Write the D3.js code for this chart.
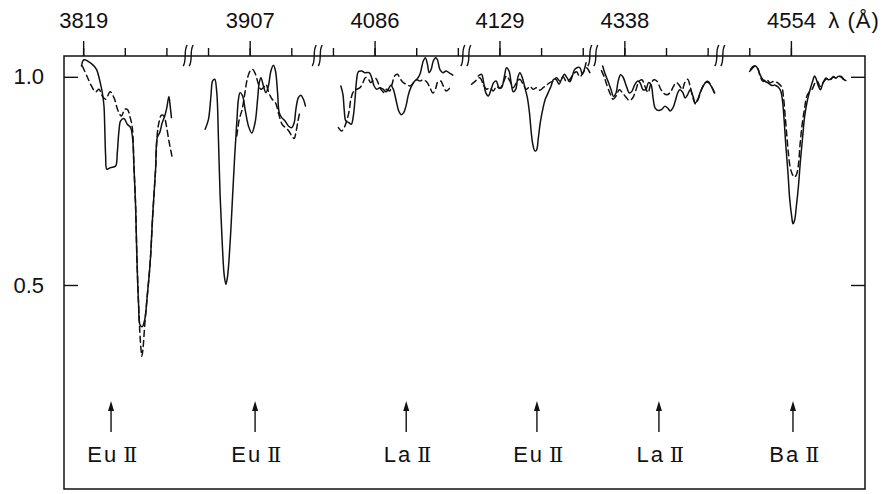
<!DOCTYPE html>
<meta charset="utf-8">
<style>

body {
  margin: 0;
  background: #fff;
}

.spec {
  fill: none;
  stroke: #111;
  stroke-width: 1.5;
  stroke-linejoin: round;
  stroke-linecap: round;
}

.spec--dash {
  stroke-dasharray: 6,4;
}

.frame {
  fill: none;
  stroke: #111;
  stroke-width: 1.5;
}

.axis path.domain {
  display: none;
}

.axis line {
  stroke: #111;
  stroke-width: 1.4;
}

.axis text, .lbl {
  font-family: "Liberation Sans", sans-serif;
  font-size: 22px;
  fill: #111;
}

</style>
<svg width="887" height="494"></svg>
<script src="https://cdn.jsdelivr.net/npm/d3@7/dist/d3.min.js"></script>
<script>

// wavelength window of each panel of the broken axis (Å)
var panelRanges = [[3818.54, 3821.57], [3905.57, 3908.67], [4084.67, 4088.24],
                   [4128.24, 4131.29], [4337.29, 4340.34], [4552.34, 4555.78]];
var panelLabels = [3819, 3907, 4086, 4129, 4338, 4554];
var panelTicks = [[3819, 3820, 3821], [3906, 3907, 3908], [4085, 4086, 4087, 4088],
                  [4129, 4130, 4131], [4338, 4339, 4340], [4553, 4554]];

// identified lines (arrows)
var lineIons = ["Eu", "Eu", "La", "Eu", "La", "Ba"];
var lineStages = ["II", "II", "II", "II", "II", "II"];
var lineLambda = [3819.67, 3907.13, 4086.76, 4129.9, 4338.83, 4554.05];

// residual flux, solid star
var seg1Solid = [[3818.96,1.026],[3819.02,1.041],[3819.22,1.030],[3819.32,1.018],[3819.41,0.986],[3819.46,0.962],[3819.50,0.930],[3819.52,0.874],[3819.54,0.810],[3819.57,0.778],[3819.66,0.782],[3819.78,0.786],[3819.82,0.818],[3819.86,0.870],[3819.90,0.894],[3819.98,0.900],[3820.06,0.886],[3820.14,0.878],[3820.19,0.850],[3820.22,0.786],[3820.26,0.690],[3820.29,0.570],[3820.33,0.457],[3820.37,0.403],[3820.42,0.400],[3820.48,0.417],[3820.54,0.474],[3820.61,0.554],[3820.67,0.666],[3820.74,0.778],[3820.78,0.854],[3820.84,0.866],[3820.90,0.890],[3820.96,0.906],[3821.01,0.926],[3821.06,0.953],[3821.09,0.930],[3821.12,0.902]];
var seg2Solid = [[3905.93,0.874],[3906.01,0.898],[3906.07,0.954],[3906.11,0.990],[3906.16,0.994],[3906.21,0.962],[3906.25,0.850],[3906.29,0.714],[3906.34,0.602],[3906.39,0.522],[3906.43,0.502],[3906.47,0.522],[3906.53,0.602],[3906.59,0.714],[3906.64,0.810],[3906.69,0.890],[3906.73,0.946],[3906.77,0.962],[3906.83,0.954],[3906.89,0.922],[3906.97,0.882],[3907.05,0.865],[3907.13,0.890],[3907.19,0.946],[3907.23,0.986],[3907.27,0.998],[3907.33,0.978],[3907.39,0.962],[3907.45,0.978],[3907.51,1.014],[3907.57,1.028],[3907.62,1.014],[3907.67,0.962],[3907.71,0.914],[3907.77,0.902],[3907.85,0.894],[3907.93,0.882],[3908.01,0.878],[3908.07,0.890],[3908.11,0.922],[3908.17,0.950],[3908.23,0.956],[3908.29,0.946],[3908.34,0.930]];
var seg3Solid = [[4085.19,0.978],[4085.24,0.958],[4085.27,0.922],[4085.31,0.894],[4085.38,0.890],[4085.44,0.886],[4085.49,0.906],[4085.53,0.946],[4085.57,0.994],[4085.61,1.012],[4085.69,1.014],[4085.77,1.010],[4085.87,1.010],[4085.93,0.998],[4085.99,0.978],[4086.05,0.970],[4086.13,0.974],[4086.21,0.970],[4086.27,0.964],[4086.33,0.970],[4086.39,0.980],[4086.45,0.970],[4086.52,0.942],[4086.58,0.918],[4086.64,0.909],[4086.70,0.914],[4086.76,0.932],[4086.81,0.956],[4086.87,0.974],[4086.95,0.988],[4087.03,0.996],[4087.09,1.006],[4087.13,1.022],[4087.17,1.038],[4087.22,1.046],[4087.27,1.030],[4087.31,1.010],[4087.36,1.018],[4087.41,1.038],[4087.47,1.046],[4087.51,1.041],[4087.57,1.017],[4087.64,1.010],[4087.72,1.014],[4087.80,1.009],[4087.88,1.004]];
var seg4Solid = [[4128.49,1.002],[4128.57,1.006],[4128.62,0.986],[4128.67,0.962],[4128.73,0.954],[4128.80,0.970],[4128.86,0.986],[4128.92,0.990],[4128.99,0.974],[4129.05,0.974],[4129.12,1.002],[4129.17,1.022],[4129.23,1.014],[4129.28,0.986],[4129.33,0.964],[4129.39,0.970],[4129.44,0.998],[4129.49,1.010],[4129.55,0.998],[4129.61,0.974],[4129.67,0.950],[4129.72,0.914],[4129.76,0.870],[4129.80,0.838],[4129.85,0.822],[4129.89,0.824],[4129.93,0.850],[4129.98,0.890],[4130.04,0.922],[4130.10,0.946],[4130.17,0.962],[4130.24,0.978],[4130.30,0.994],[4130.36,0.994],[4130.43,0.982],[4130.49,0.994],[4130.56,1.006],[4130.62,0.998],[4130.69,0.988],[4130.75,1.002],[4130.81,1.018],[4130.93,1.022],[4130.99,1.006],[4131.04,1.018],[4131.08,1.034]];
var seg5Solid = [[4337.48,1.026],[4337.53,1.009],[4337.61,0.989],[4337.68,0.969],[4337.74,0.953],[4337.80,0.961],[4337.85,0.989],[4337.91,1.005],[4337.97,0.999],[4338.05,0.977],[4338.12,0.961],[4338.18,0.965],[4338.25,0.981],[4338.32,0.990],[4338.38,0.985],[4338.45,0.969],[4338.52,0.970],[4338.58,0.986],[4338.64,0.981],[4338.69,0.949],[4338.74,0.925],[4338.82,0.919],[4338.90,0.922],[4338.97,0.929],[4339.04,0.925],[4339.10,0.918],[4339.17,0.926],[4339.22,0.941],[4339.28,0.961],[4339.33,0.969],[4339.40,0.963],[4339.46,0.949],[4339.52,0.957],[4339.58,0.969],[4339.65,0.953],[4339.70,0.937],[4339.76,0.945],[4339.82,0.962],[4339.89,0.977],[4339.95,0.986],[4340.02,0.986],[4340.09,0.977],[4340.17,0.961]];
var seg6Solid = [[4553.01,1.013],[4553.08,1.021],[4553.15,1.026],[4553.21,1.018],[4553.26,1.005],[4553.32,0.994],[4553.38,0.989],[4553.46,0.985],[4553.54,0.979],[4553.62,0.980],[4553.70,0.975],[4553.76,0.965],[4553.80,0.941],[4553.84,0.893],[4553.88,0.833],[4553.93,0.769],[4553.97,0.708],[4554.02,0.664],[4554.05,0.647],[4554.09,0.656],[4554.13,0.688],[4554.18,0.736],[4554.23,0.800],[4554.28,0.853],[4554.33,0.905],[4554.40,0.945],[4554.46,0.969],[4554.52,0.989],[4554.57,1.002],[4554.61,0.994],[4554.66,0.978],[4554.71,0.969],[4554.77,0.985],[4554.84,0.997],[4554.90,0.993],[4554.96,0.995],[4555.02,1.001],[4555.08,0.997],[4555.14,1.001],[4555.21,1.001],[4555.27,0.994],[4555.32,0.991]];

// residual flux, comparison star (dashed)
var seg1Dashed = [[3818.98,1.026],[3819.09,1.002],[3819.20,0.978],[3819.30,0.964],[3819.38,0.970],[3819.46,0.954],[3819.54,0.946],[3819.65,0.964],[3819.74,0.950],[3819.84,0.918],[3819.92,0.906],[3820.00,0.922],[3820.06,0.922],[3820.13,0.902],[3820.18,0.878],[3820.22,0.786],[3820.26,0.690],[3820.29,0.570],[3820.33,0.457],[3820.36,0.390],[3820.39,0.345],[3820.41,0.329],[3820.44,0.350],[3820.48,0.405],[3820.54,0.474],[3820.61,0.554],[3820.67,0.666],[3820.74,0.778],[3820.78,0.862],[3820.82,0.890],[3820.88,0.908],[3820.94,0.906],[3821.00,0.882],[3821.06,0.846],[3821.14,0.806]];
var seg2Dashed = [[3906.69,0.858],[3906.75,0.898],[3906.82,0.922],[3906.88,0.958],[3906.94,0.994],[3907.01,1.014],[3907.07,1.018],[3907.14,1.006],[3907.20,0.986],[3907.27,0.970],[3907.33,0.974],[3907.39,0.982],[3907.46,0.962],[3907.54,0.946],[3907.62,0.938],[3907.70,0.910],[3907.78,0.886],[3907.86,0.878],[3907.94,0.870],[3908.01,0.858],[3908.07,0.852],[3908.11,0.866],[3908.16,0.894],[3908.21,0.918]];
var seg3Dashed = [[4085.13,0.878],[4085.21,0.870],[4085.27,0.878],[4085.33,0.894],[4085.39,0.918],[4085.43,0.946],[4085.49,0.964],[4085.57,0.970],[4085.65,0.974],[4085.72,0.986],[4085.78,0.998],[4085.84,0.996],[4085.91,0.986],[4085.97,0.993],[4086.03,0.996],[4086.10,0.982],[4086.16,0.969],[4086.23,0.962],[4086.29,0.970],[4086.36,0.966],[4086.42,0.982],[4086.48,1.002],[4086.55,1.006],[4086.61,0.996],[4086.69,0.986],[4086.77,0.982],[4086.85,0.978],[4086.93,0.985],[4087.01,0.993],[4087.09,0.990],[4087.17,0.993],[4087.25,0.988],[4087.33,0.974],[4087.40,0.961],[4087.46,0.970],[4087.52,0.988],[4087.59,0.990],[4087.65,0.978],[4087.72,0.966],[4087.78,0.970],[4087.83,0.978]];
var seg4Dashed = [[4128.33,0.982],[4128.40,0.988],[4128.53,0.998],[4128.61,0.982],[4128.69,0.970],[4128.77,0.974],[4128.85,0.966],[4128.93,0.977],[4129.01,0.972],[4129.09,0.986],[4129.17,1.002],[4129.25,0.990],[4129.33,0.974],[4129.41,0.986],[4129.49,0.994],[4129.57,0.982],[4129.65,0.970],[4129.73,0.977],[4129.81,0.970],[4129.89,0.974],[4129.97,0.968],[4130.05,0.974],[4130.13,0.980],[4130.21,0.986],[4130.29,0.990],[4130.37,0.998],[4130.45,0.990],[4130.53,1.000],[4130.61,0.988],[4130.69,0.994],[4130.77,1.006],[4130.85,1.012],[4130.93,1.000],[4131.01,1.010],[4131.09,1.022],[4131.15,1.014],[4131.21,1.002]];
var seg5Dashed = [[4337.45,1.015],[4337.52,0.999],[4337.59,0.977],[4337.67,0.957],[4337.73,0.946],[4337.80,0.954],[4337.88,0.969],[4337.96,0.961],[4338.04,0.951],[4338.12,0.943],[4338.20,0.949],[4338.28,0.969],[4338.35,0.989],[4338.42,0.993],[4338.49,0.978],[4338.57,0.962],[4338.63,0.981],[4338.71,0.993],[4338.79,0.989],[4338.86,0.973],[4338.94,0.961],[4339.02,0.957],[4339.10,0.962],[4339.18,0.977],[4339.25,0.986],[4339.33,0.978],[4339.39,0.969],[4339.45,0.986],[4339.52,0.994],[4339.58,0.977],[4339.65,0.949],[4339.71,0.935],[4339.78,0.948],[4339.85,0.969],[4339.93,0.985],[4340.01,0.989],[4340.09,0.977],[4340.17,0.959]];
var seg6Dashed = [[4553.03,1.018],[4553.11,1.026],[4553.19,1.023],[4553.26,1.002],[4553.33,0.989],[4553.42,0.994],[4553.49,0.986],[4553.59,0.989],[4553.69,0.985],[4553.78,0.975],[4553.82,0.953],[4553.86,0.909],[4553.90,0.861],[4553.94,0.817],[4553.98,0.784],[4554.03,0.767],[4554.08,0.759],[4554.13,0.764],[4554.18,0.788],[4554.22,0.837],[4554.27,0.885],[4554.33,0.925],[4554.38,0.953],[4554.45,0.965],[4554.51,0.970],[4554.58,0.985],[4554.64,0.989],[4554.70,0.977],[4554.77,0.986],[4554.86,0.995],[4554.94,0.993],[4555.02,0.999],[4555.09,0.997],[4555.18,1.001],[4555.26,0.994]];

var solidSeries = [seg1Solid, seg2Solid, seg3Solid, seg4Solid, seg5Solid, seg6Solid];
var dashedSeries = [seg1Dashed, seg2Dashed, seg3Dashed, seg4Dashed, seg5Dashed, seg6Dashed];

var svg = d3.select("svg"),
    margin = {top: 56, right: 22, bottom: 5, left: 64},
    width = +svg.attr("width") - margin.left - margin.right,
    height = +svg.attr("height") - margin.top - margin.bottom;

var g = svg.append("g")
    .attr("transform", "translate(" + margin.left + "," + margin.top + ")");

// one continuous scale over the summed panel widths, then one scale per panel
var spans = panelRanges.map(function(r) { return r[1] - r[0]; }),
    offsets = spans.map(function(s, i) { return d3.sum(spans.slice(0, i)); }),
    xs = d3.scaleLinear().domain([0, d3.sum(spans)]).range([0, width]);

var panels = panelRanges.map(function(r, i) {
  return d3.scaleLinear().domain(r).range([xs(offsets[i]), xs(offsets[i] + spans[i])]);
});

var y = d3.scaleLinear().domain([0.01, 1.05]).range([height, 0]);

g.append("rect")
    .attr("class", "frame")
    .attr("width", width)
    .attr("height", height);

// top axis: minor ticks, then labelled major tick
panels.forEach(function(x, i) {
  g.append("g")
      .attr("class", "axis")
      .call(d3.axisTop(x).tickValues(panelTicks[i]).tickSize(8).tickFormat(""));
  g.append("g")
      .attr("class", "axis")
      .call(d3.axisTop(x).tickValues([panelLabels[i]]).tickSize(15).tickPadding(13).tickFormat(d3.format("d")))
      .attr("font-family", null)
      .attr("font-size", null);
});

// unit label after the last panel label
g.append("text")
    .attr("class", "lbl")
    .attr("x", panels[5](4554.9))
    .attr("y", -28)
    .style("letter-spacing", "1px")
    .text("λ (Å)");

// axis breaks
offsets.slice(1).forEach(function(o) {
  var bx = xs(o);
  [-3, 3].forEach(function(d) {
    g.append("path")
        .attr("d", "M" + (bx + d - 4) + ",10 C" + (bx + d) + ",4 " + (bx + d - 4) + ",-4 " + (bx + d) + ",-11")
        .attr("fill", "none")
        .attr("stroke", "#111")
        .attr("stroke-width", 1.4);
  });
});

g.append("g")
    .attr("class", "axis")
    .call(d3.axisLeft(y).tickValues([0.5, 1.0]).tickFormat(d3.format(".1f"))
      .tickSizeInner(-14).tickSizeOuter(0).tickPadding(20))
    .attr("font-family", null)
    .attr("font-size", null);

g.append("g")
    .attr("class", "axis")
    .attr("transform", "translate(" + width + ",0)")
    .call(d3.axisRight(y).tickValues([0.5, 1.0]).tickFormat("")
      .tickSizeInner(-14).tickSizeOuter(0));

// spectra
panels.forEach(function(x, i) {
  var line = d3.line()
      .curve(d3.curveCatmullRom.alpha(0.5))
      .x(function(d) { return x(d[0]); })
      .y(function(d) { return y(d[1]); });

  g.append("path")
      .datum(dashedSeries[i])
      .attr("class", "spec spec--dash")
      .attr("d", line);

  g.append("path")
      .datum(solidSeries[i])
      .attr("class", "spec")
      .attr("d", line);
});

// line identifications
var marks = g.selectAll(".ident")
  .data(lineLambda)
  .enter().append("g")
    .attr("class", "ident")
    .attr("transform", function(d, i) { return "translate(" + panels[i](d) + ",0)"; });

marks.append("line")
    .attr("y1", 349)
    .attr("y2", 376)
    .attr("stroke", "#111")
    .attr("stroke-width", 1.4);

marks.append("path")
    .attr("d", "M0,345 L-3,355 L3,355 Z")
    .attr("fill", "#111");

var lbl = marks.append("text")
    .attr("class", "lbl")
    .attr("y", 406)
    .attr("text-anchor", "middle");

lbl.append("tspan")
    .style("letter-spacing", "2px")
    .text(function(d, i) { return lineIons[i]; });

// roman numeral with joined slab serifs
lbl.append("tspan")
    .attr("dx", 5)
    .style("font-family", "'DejaVu Serif', serif")
    .style("font-size", "21px")
    .style("letter-spacing", "-2.5px")
    .text(function(d, i) { return lineStages[i]; });

</script>
